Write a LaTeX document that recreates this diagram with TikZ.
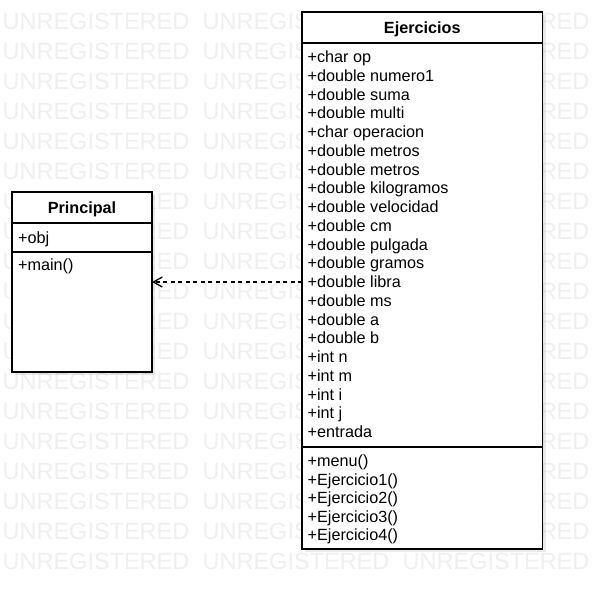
\documentclass[tikz,border=0pt]{standalone}
\usepackage{fontspec}
\setmainfont{Liberation Sans}
\usetikzlibrary{arrows.meta,positioning,shadows}
\definecolor{ink}{HTML}{000000}
\definecolor{wmgray}{HTML}{EFEFEF}

\begin{document}
\begin{tikzpicture}[x=1pt,y=-1pt,line width=1.3pt, every node/.style={font=\fontsize{16.2}{19}\selectfont}, cls/.style={draw=ink,fill=white,inner sep=0pt,outer sep=0pt,drop shadow={shadow xshift=3pt,shadow yshift=-3pt,opacity=.08,fill=black}}, hd/.style={cls,font=\bfseries\fontsize{16.2}{19}\selectfont,text height=11.6pt,text depth=0pt,minimum height=31pt}, item/.style={anchor=base west,inner sep=0pt,text=ink}, wm/.style={anchor=base west,inner sep=0pt,text=wmgray,font=\fontsize{23.5}{23.5}\selectfont}, dep/.style={dash pattern=on 4pt off 3.5pt,-{Straight Barb[length=9pt,width=10pt]}}]
\useasboundingbox (0,0) rectangle (592,600);
% watermark
\foreach \r in {0,...,18}
  \foreach \c in {0,1,2}
    \node[wm] (wm\r-\c) at (2+200*\c,29.5+30*\r) {UNREGISTERED};
% class Ejercicios
\node[hd,minimum width=240.5pt,anchor=north west] (ejH) at (302,12) {Ejercicios};
\node[cls,minimum width=240.5pt,minimum height=404pt,below=0pt of ejH] (ejA) {};
\node[cls,minimum width=240.5pt,minimum height=102pt,below=0pt of ejA] (ejM) {};
\foreach \t [count=\i] in {+char op,+double numero1,+double suma,+double multi,+char operacion,+double metros,+double metros,+double kilogramos,+double velocidad,+double cm,+double pulgada,+double gramos,+double libra,+double ms,+double a,+double b,+int n,+int m,+int i,+int j,+entrada}
  \node[item] (ea\i) at ([xshift=5pt,yshift={-19.5-18.75*(\i-1)}]ejA.north west) {\t};
\foreach \t [count=\i] in {+menu(),+Ejercicio1(),+Ejercicio2(),+Ejercicio3(),+Ejercicio4()}
  \node[item] (em\i) at ([xshift=5pt,yshift={-19.5-18.6*(\i-1)}]ejM.north west) {\t};
% class Principal
\node[hd,minimum width=140pt,anchor=north west] (pH) at (12,192) {Principal};
\node[cls,minimum width=140pt,minimum height=29pt,below=0pt of pH] (pA) {};
\node[cls,minimum width=140pt,minimum height=120pt,below=0pt of pA] (pM) {};
\node[item] (pa1) at ([xshift=5.5pt,yshift=-20pt]pA.north west) {+obj};
\node[item] (pm1) at ([xshift=5.5pt,yshift=-18.5pt]pM.north west) {+main()};
% dependency
\coordinate (tail) at (302,282);
\draw[dep] (tail) -- (tail -| pM.east);
\end{tikzpicture}
\end{document}
